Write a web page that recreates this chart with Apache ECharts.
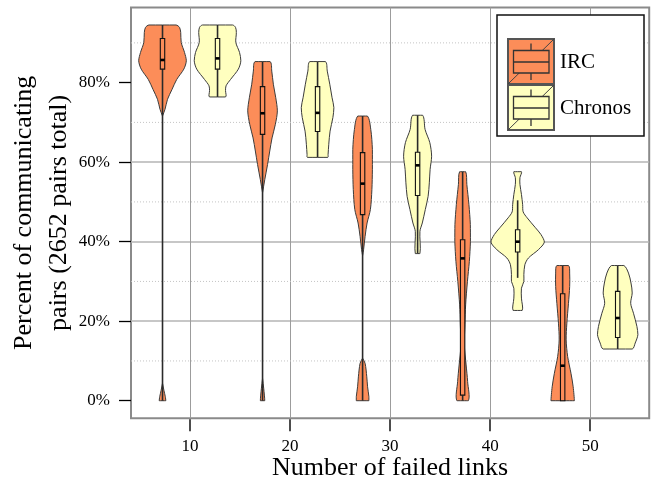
<!DOCTYPE html>
<html>
<head>
<meta charset="utf-8">
<script src="https://cdn.jsdelivr.net/npm/echarts@6/dist/echarts.min.js"></script>
<style>
  html, body { margin: 0; padding: 0; background: #fff; }
  #chart { width: 651px; height: 483px; }
</style>
</head>
<body>
<div id="chart"></div>
<script>
// Groups on the x axis: number of failed links
const failedLinks = [10, 20, 30, 40, 50];
const seriesNames = ['IRC', 'Chronos'];
const xTickValues = [10, 20, 30, 40, 50];
const yTickValues = [0, 20, 40, 60, 80];
const minorGridValues = [10, 30, 50, 70, 90];

// Box-plot summaries, percent of communicating pairs
const ircMin    = [0, 0, 0, 0, 0];
const ircQ1     = [83.4, 67.0, 46.8, 1.4, 0];
const ircMedian = [85.7, 72.3, 54.6, 35.8, 8.8];
const ircQ3     = [91.1, 79.0, 62.4, 40.5, 26.9];
const ircMax    = [94.5, 85.3, 71.6, 57.6, 34.0];

const chronosMin    = [76.4, 61.2, 37.0, 30.9, 13.0];
const chronosQ1     = [83.4, 67.7, 51.6, 37.4, 15.9];
const chronosMedian = [86.1, 72.4, 59.2, 40.0, 20.8];
const chronosQ3     = [91.1, 79.0, 62.5, 43.0, 27.5];
const chronosMax    = [94.5, 85.3, 71.8, 50.4, 34.0];

// Kernel density profiles: [percent, half-width in x units], top to bottom
const ircDensity = [
  [[94.5,1.35],[93.9,1.7],[92.6,1.82],[90.1,1.87],[87.6,2.2],[85.5,2.38],[83.4,2.13],[80.8,1.42],[78.3,0.95],[75.8,0.5],[73.3,0.25],[71.6,0],
   [4.4,0],[2.5,0.15],[1.0,0.28],[0,0.33]],
  [[85.3,0.75],[82.9,0.92],[79.6,1.08],[76.2,1.32],[72.9,1.48],[69.5,1.28],[66.1,0.95],[62.8,0.72],[59.4,0.5],[55.6,0.22],[52.3,0],
   [5.6,0],[3.0,0.12],[0,0.22]],
  [[71.6,0.48],[68.2,0.82],[63.2,0.98],[58.2,0.98],[53.1,0.93],[48.1,0.78],[44.7,0.45],[41.3,0.25],[38.0,0.1],[36.5,0],
   [10.7,0],[9.4,0.25],[6.0,0.42],[3.5,0.5],[1.0,0.63],[0,0.63]],
  [[57.6,0.3],[54.4,0.42],[49.3,0.63],[44.3,0.77],[40.1,0.78],[35.0,0.67],[30.0,0.48],[24.1,0.3],[19.1,0.23],[14.0,0.17],[9.0,0.35],[4.8,0.5],[0,0.57]],
  [[34.0,0.58],[32.1,0.7],[28.7,0.7],[24.5,0.58],[19.5,0.42],[15.3,0.35],[11.1,0.5],[6.9,0.83],[3.5,1.05],[0,1.17]]
];
const chronosDensity = [
  [[94.5,1.5],[93.9,1.8],[92.6,1.88],[90.1,1.83],[87.6,2.2],[85.5,2.33],[83.4,2.08],[80.8,1.3],[79.2,0.85],[78.0,0.8],[76.4,0.8]],
  [[85.3,0.78],[82.9,0.97],[79.6,1.22],[76.2,1.45],[73.7,1.63],[71.2,1.53],[67.8,1.25],[64.5,1.12],[61.9,1.05],[61.2,1.02]],
  [[71.8,0.5],[68.2,0.75],[64.9,1.22],[61.5,1.4],[58.2,1.25],[54.8,1.17],[51.4,1.05],[48.1,0.77],[44.7,0.47],[42.6,0.23],[37.0,0.23]],
  [[57.6,0.38],[56.1,0.23],[54.4,0.23],[51.9,0.38],[49.3,0.5],[47.5,0.55],[46.0,0.95],[43.5,1.78],[41.8,2.33],[39.9,2.67],[38.0,2.08],[35.9,1.08],[34.2,0.72],[31.7,0.62],[30.0,0.62],[28.3,0.38],[25.8,0.38],[22.7,0.45]],
  [[34.0,0.62],[32.1,1.08],[29.6,1.33],[27.1,1.45],[24.5,1.3],[22.0,1.58],[18.7,1.92],[16.6,2.02],[14.5,1.75],[13.0,1.45]]
];

const SERIF = '"Liberation Serif", "DejaVu Serif", serif';
const COLORS = ['#fc8d59', '#ffffbf'];
const OFFSETS = [-2.75, 2.75];
const BOX_HALF = 0.22;
const TICK_LEN = 12;
const FRAME = { color: '#8a8a8a', width: 2 };
const GRID = { left: 131, top: 7.5, width: 518.2, height: 410.7 };

// Break a profile into separate lobes wherever the density drops to zero
function splitPieces(profile) {
  const pieces = [];
  let cur = [];
  profile.forEach((p, k) => {
    cur.push(p);
    const next = profile[k + 1];
    if (p[1] === 0 && next && next[1] === 0) { pieces.push(cur); cur = []; }
  });
  if (cur.length) pieces.push(cur);
  return pieces;
}

function violinRenderer(stats, profiles, color) {
  return function (params, api) {
    const i = params.dataIndex;
    const xc = api.value(0);
    const children = [];
    splitPieces(profiles[i]).forEach(piece => {
      const left = piece.map(p => api.coord([xc - p[1], p[0]]));
      const right = piece.slice().reverse().map(p => api.coord([xc + p[1], p[0]]));
      const pts = left.concat(right);
      const xs = pts.map(p => p[0]), ys = pts.map(p => p[1]);
      children.push({
        type: 'polygon',
        shape: {
          points: pts,
          smooth: 0.3,
          smoothConstraint: [[Math.min(...xs), Math.min(...ys)], [Math.max(...xs), Math.max(...ys)]]
        },
        style: { fill: color, stroke: '#3c3c3c', lineWidth: 1 }
      });
    });
    const pMin = api.coord([xc, stats.min[i]]);
    const pQ1 = api.coord([xc, stats.q1[i]]);
    const pQ3 = api.coord([xc, stats.q3[i]]);
    const pMax = api.coord([xc, stats.max[i]]);
    const boxTL = api.coord([xc - BOX_HALF, stats.q3[i]]);
    const boxBR = api.coord([xc + BOX_HALF, stats.q1[i]]);
    const medL = api.coord([xc - BOX_HALF, stats.median[i]]);
    const medR = api.coord([xc + BOX_HALF, stats.median[i]]);
    children.push(
      { type: 'line', shape: { x1: pMax[0], y1: pMax[1], x2: pQ3[0], y2: pQ3[1] }, style: { stroke: '#2a2a2a', lineWidth: 1.6 } },
      { type: 'line', shape: { x1: pQ1[0], y1: pQ1[1], x2: pMin[0], y2: pMin[1] }, style: { stroke: '#2a2a2a', lineWidth: 1.6 } },
      { type: 'rect', shape: { x: boxTL[0], y: boxTL[1], width: boxBR[0] - boxTL[0], height: boxBR[1] - boxTL[1] },
        style: { fill: color, stroke: '#111', lineWidth: 1.1 } },
      { type: 'line', shape: { x1: medL[0], y1: medL[1], x2: medR[0], y2: medR[1] }, style: { stroke: '#000', lineWidth: 2.6 } }
    );
    return { type: 'group', children };
  };
}

const ircStats = { min: ircMin, q1: ircQ1, median: ircMedian, q3: ircQ3, max: ircMax };
const chronosStats = { min: chronosMin, q1: chronosQ1, median: chronosMedian, q3: chronosQ3, max: chronosMax };

// Legend block: box-plot glyph icons with series names
function legendGraphics() {
  const els = [{
    type: 'rect', z: 100,
    shape: { x: 497, y: 15, width: 147, height: 121 },
    style: { fill: '#fff', stroke: '#111', lineWidth: 1.5 }
  }];
  seriesNames.forEach((name, k) => {
    const x0 = 508, y0 = 39 + 46 * k, w = 46, h = 45;
    const c = COLORS[k];
    els.push(
      { type: 'rect', z: 101, shape: { x: x0, y: y0, width: w, height: h }, style: { fill: c, stroke: '#555', lineWidth: 2 } },
      { type: 'line', z: 102, shape: { x1: x0, y1: y0 + h, x2: x0 + w, y2: y0 }, style: { stroke: '#444', lineWidth: 1 } },
      { type: 'line', z: 102, shape: { x1: x0 + 23, y1: y0 + 4.5, x2: x0 + 23, y2: y0 + 41 }, style: { stroke: '#333', lineWidth: 1.3 } },
      { type: 'rect', z: 103, shape: { x: x0 + 5.5, y: y0 + 11.5, width: 35.5, height: 22.5 }, style: { fill: c, stroke: '#333', lineWidth: 1.3 } },
      { type: 'line', z: 104, shape: { x1: x0 + 5.5, y1: y0 + 23, x2: x0 + 41, y2: y0 + 23 }, style: { stroke: '#333', lineWidth: 1.3 } },
      { type: 'text', z: 104, x: 560, y: y0 + 23,
        style: { text: name, fontFamily: SERIF, fontSize: 21, fill: '#000', verticalAlign: 'middle', align: 'left' } }
    );
  });
  return els;
}

const chart = echarts.init(document.getElementById('chart'), null, { renderer: 'canvas' });
chart.setOption({
  animation: false,
  backgroundColor: '#fff',
  textStyle: { fontFamily: SERIF },
  grid: Object.assign({}, GRID, {
    show: true, borderColor: FRAME.color, borderWidth: FRAME.width, backgroundColor: 'transparent',
    containLabel: false, outerBoundsMode: 'none'
  }),
  xAxis: {
    type: 'value', min: 4.1, max: 55.9,
    name: 'Number of failed links', nameLocation: 'middle', nameGap: 37, nameMoveOverlap: false,
    nameTextStyle: { fontFamily: SERIF, fontSize: 26, color: '#000' },
    axisLine: { show: false, onZero: false },
    axisTick: { show: false },
    axisLabel: { fontFamily: SERIF, fontSize: 17, color: '#000', margin: 20, customValues: xTickValues },
    splitLine: { show: true, showMinLine: false, showMaxLine: false, lineStyle: { color: '#9c9c9c', width: 1 } }
  },
  yAxis: {
    type: 'value', min: -4.4, max: 98.9,
    name: 'Percent of communicating\npairs (2652 pairs total)', nameLocation: 'middle', nameRotate: 90, nameGap: 54,
    nameMoveOverlap: false,
    nameTextStyle: { fontFamily: SERIF, fontSize: 26, lineHeight: 35, color: '#000', align: 'center' },
    axisLine: { show: false, onZero: false },
    axisTick: { show: true, inside: false, length: TICK_LEN, lineStyle: { color: '#000', width: 1.3 }, customValues: yTickValues },
    axisLabel: { fontFamily: SERIF, fontSize: 17, color: '#000', margin: 21, formatter: '{value}%', customValues: yTickValues },
    splitLine: { show: true, showMinLine: false, showMaxLine: false, lineStyle: { color: '#b4b4b4', width: 1.5 } }
  },
  graphic: legendGraphics(),
  series: [
    {
      // dotted minor grid lines between the labelled ticks
      type: 'custom', z: 1, silent: true,
      data: minorGridValues.map(v => [v]),
      encode: { y: 0 },
      renderItem: function (params, api) {
        const cs = params.coordSys;
        const py = api.coord([30, api.value(0)])[1];
        return { type: 'line', shape: { x1: cs.x, y1: py, x2: cs.x + cs.width, y2: py },
                 style: { stroke: '#c4c4c4', lineWidth: 1, lineDash: [1, 2] } };
      }
    },
    {
      type: 'custom', name: seriesNames[0], z: 3, silent: true,
      data: failedLinks.map((g, i) => [g + OFFSETS[0], ircMedian[i]]),
      encode: { x: 0, y: 1 },
      renderItem: violinRenderer(ircStats, ircDensity, COLORS[0])
    },
    {
      type: 'custom', name: seriesNames[1], z: 3, silent: true,
      data: failedLinks.map((g, i) => [g + OFFSETS[1], chronosMedian[i]]),
      encode: { x: 0, y: 1 },
      renderItem: violinRenderer(chronosStats, chronosDensity, COLORS[1])
    }
  ]
});

// Outward tick marks below the x axis, placed through the axis scale
const axisBottom = GRID.top + GRID.height + 1;
const xTickMarks = xTickValues.map(v => {
  const px = Math.round(chart.convertToPixel({ xAxisIndex: 0 }, v));
  return { type: 'rect', z: 110, shape: { x: px - 0.7, y: axisBottom, width: 1.4, height: TICK_LEN },
           style: { fill: '#000' } };
});
chart.setOption({ graphic: legendGraphics().concat(xTickMarks) });
</script>
</body>
</html>
